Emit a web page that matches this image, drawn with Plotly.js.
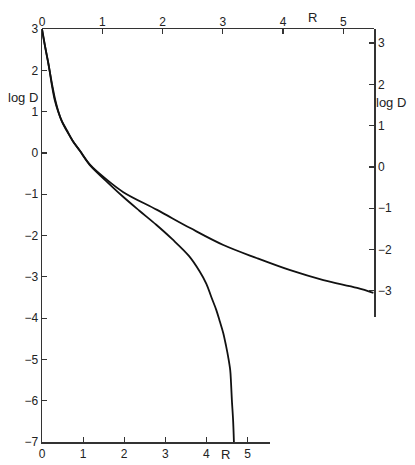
<!DOCTYPE html>
<html>
<head>
<meta charset="utf-8">
<script src="https://cdn.plot.ly/plotly-3.0.1.min.js"></script>
<style>html,body{margin:0;padding:0;background:#fff;}#chart{width:415px;height:465px;}</style>
</head>
<body>
<div id="chart"></div>
<script>
// Curve drawn against the bottom R axis and left log D axis
const lowerR    = [0.00, 0.05, 0.10, 0.15, 0.19, 0.24, 0.31, 0.39, 0.48, 0.61, 0.75, 0.92, 1.16, 1.55, 1.96, 2.37, 2.78, 3.17, 3.58, 3.83, 4.00, 4.12, 4.24, 4.33, 4.41, 4.48, 4.53, 4.58, 4.60, 4.62, 4.65, 4.67];
const lowerLogD = [3.00, 2.73, 2.44, 2.20, 1.96, 1.64, 1.28, 1.01, 0.77, 0.52, 0.29, 0.05, -0.29, -0.67, -1.05, -1.40, -1.74, -2.09, -2.50, -2.86, -3.17, -3.49, -3.80, -4.09, -4.36, -4.68, -4.94, -5.26, -5.57, -5.98, -6.47, -7.00];
// Curve drawn against the top R axis and right log D axis
const upperR    = [0.00, 0.03, 0.07, 0.10, 0.13, 0.17, 0.22, 0.27, 0.33, 0.42, 0.51, 0.63, 0.80, 1.06, 1.35, 1.91, 2.46, 3.01, 3.57, 4.12, 4.67, 5.23, 5.50];
const upperLogD = [3.34, 3.07, 2.78, 2.54, 2.30, 1.98, 1.62, 1.35, 1.11, 0.87, 0.63, 0.39, 0.05, -0.29, -0.61, -1.04, -1.48, -1.89, -2.21, -2.50, -2.74, -2.93, -3.05];
// Tick labels
const rTicks = [0, 1, 2, 3, 4, 5];
const leftTicks = [3, 2, 1, 0, -1, -2, -3, -4, -5, -6, -7];
const rightTicks = [3, 2, 1, 0, -1, -2, -3];

const FONT = 'Liberation Sans, Arial, sans-serif';
const lineStyle = {color: '#111', width: 1.8, shape: 'spline', smoothing: 1};
const fmt = v => v < 0 ? '\u2212' + (-v) : String(v);

const traces = [
  {x: lowerR, y: lowerLogD, xaxis: 'x', yaxis: 'y', mode: 'lines', line: lineStyle, hoverinfo: 'skip'},
  {x: upperR, y: upperLogD, xaxis: 'x2', yaxis: 'y2', mode: 'lines', line: lineStyle, hoverinfo: 'skip'}
];

const axisCommon = {
  showgrid: false, zeroline: false, showline: true, linecolor: '#333', linewidth: 1.5,
  ticks: 'inside', ticklen: 5, tickwidth: 1.2, tickcolor: '#333',
  tickfont: {family: FONT, size: 12, color: '#222'}, fixedrange: true
};

const annFont = {family: FONT, size: 13, color: '#222'};
const layout = {
  width: 415, height: 465,
  margin: {l: 42, r: 41, t: 29, b: 23, pad: 0},
  paper_bgcolor: '#fff', plot_bgcolor: 'rgba(0,0,0,0)',
  showlegend: false,
  xaxis: Object.assign({}, axisCommon, {
    domain: [0, 0.687], range: [0, 5.55], anchor: 'y', side: 'bottom',
    tickmode: 'array', tickvals: rTicks, ticktext: rTicks.map(String)
  }),
  yaxis: Object.assign({}, axisCommon, {
    domain: [0, 1], range: [-7, 3], anchor: 'x', side: 'left',
    tickmode: 'array', tickvals: leftTicks, ticktext: leftTicks.map(fmt)
  }),
  xaxis2: Object.assign({}, axisCommon, {
    domain: [0, 1], range: [0, 5.51], anchor: 'y2', side: 'top', ticklabelstandoff: -3,
    tickmode: 'array', tickvals: rTicks, ticktext: rTicks.map(String)
  }),
  yaxis2: Object.assign({}, axisCommon, {
    domain: [0.303, 1], range: [-3.63, 3.34], anchor: 'free', position: 1, side: 'right',
    tickmode: 'array', tickvals: rightTicks, ticktext: rightTicks.map(fmt)
  }),
  annotations: [
    {text: 'log D', xref: 'paper', yref: 'paper', x: -0.057, y: 0.835, xanchor: 'center', yanchor: 'middle', showarrow: false, font: annFont},
    {text: 'log D', xref: 'paper', yref: 'paper', x: 1.051, y: 0.823, xanchor: 'center', yanchor: 'middle', showarrow: false, font: annFont},
    {text: 'R', xref: 'paper', yref: 'paper', x: 0.816, y: 1.027, xanchor: 'center', yanchor: 'middle', showarrow: false, font: annFont},
    {text: 'R', xref: 'paper', yref: 'paper', x: 0.554, y: -0.031, xanchor: 'center', yanchor: 'middle', showarrow: false, font: annFont}
  ]
};

Plotly.newPlot('chart', traces, layout, {displayModeBar: false, staticPlot: true});
</script>
</body>
</html>
